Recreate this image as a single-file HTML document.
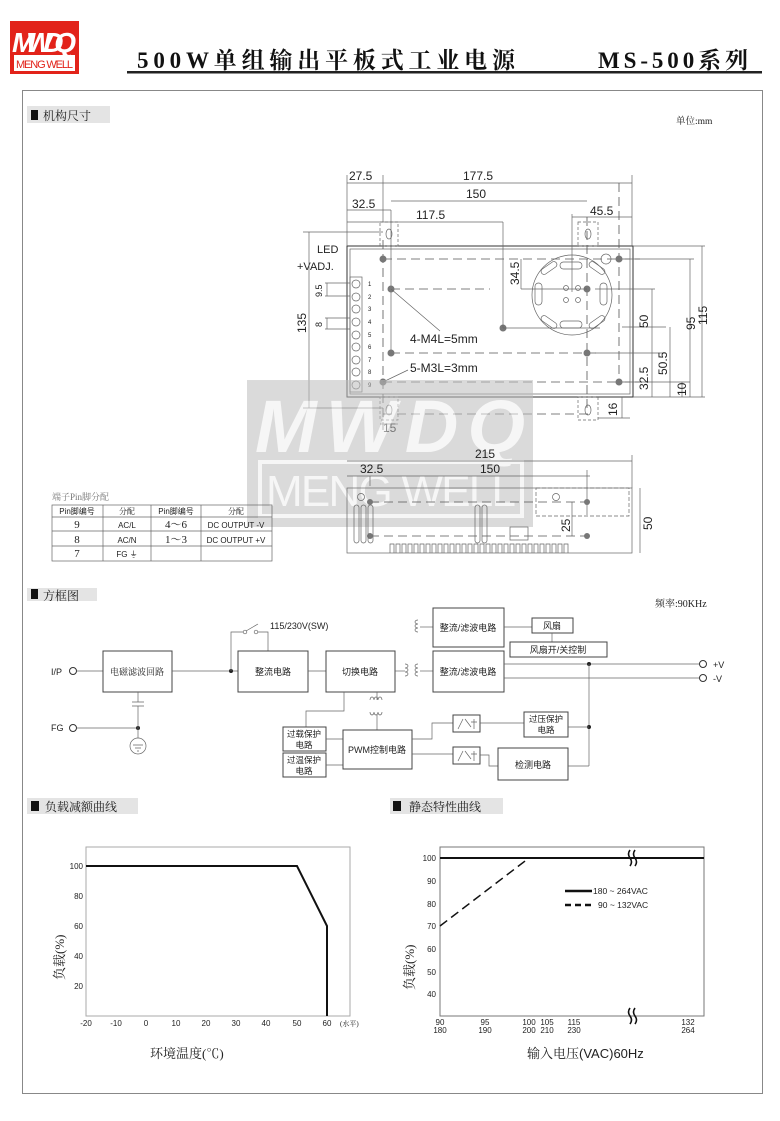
<!DOCTYPE html>
<html><head><meta charset="utf-8"><style>
html,body{margin:0;padding:0;background:#fff;}
svg{display:block;}
text{font-family:"Liberation Sans","Noto Sans CJK SC",sans-serif;fill:#222;}
.s{font-family:"Liberation Serif","Noto Serif CJK SC",serif;}
.ln{stroke:#333;stroke-width:1;fill:none;}
.th{stroke:#666;stroke-width:0.7;fill:none;}
.ds{stroke:#555;stroke-width:0.8;fill:none;stroke-dasharray:9,5;}
.bx{stroke:#444;stroke-width:1;fill:#fff;}
</style></head><body>
<svg width="780" height="1121" viewBox="0 0 780 1121" xmlns="http://www.w3.org/2000/svg">
<rect x="10" y="21" width="69" height="53" fill="#e2231a"/>
<text x="44" y="52" text-anchor="middle" font-size="28" font-weight="bold" font-style="italic" style="fill:#fff" textLength="64">MWDQ</text>
<rect x="14" y="55" width="61" height="16" fill="#fff"/>
<text x="44.5" y="68" text-anchor="middle" font-size="11" style="fill:#e2231a" textLength="57">MENG WELL</text>
<text class="s" x="137" y="68" font-size="23" font-weight="bold" style="fill:#111" textLength="378">500W单组输出平板式工业电源</text>
<text class="s" x="598" y="68" font-size="23" font-weight="bold" style="fill:#111" textLength="150">MS-500系列</text>
<rect x="127" y="71" width="635" height="2.5" fill="#222"/>
<rect x="22.5" y="90.5" width="740" height="1003" fill="none" stroke="#888" stroke-width="1"/>
<rect x="27" y="106" width="83" height="17" fill="#e4e4e4"/>
<rect x="31" y="110" width="7" height="10" fill="#111"/>
<text class="s" x="43" y="120" font-size="12">机构尺寸</text>
<text class="s" x="676" y="124" font-size="9.5">单位:mm</text>

<g>
<rect x="347" y="246" width="286" height="151" class="ln" stroke-width="1.3"/>
<rect x="350" y="249" width="280" height="145" class="th"/>
<rect x="380" y="222" width="18" height="24" class="th" stroke-dasharray="3,2"/>
<rect x="578" y="222" width="20" height="24" class="th" stroke-dasharray="3,2"/>
<rect x="380" y="397" width="18" height="23" class="th" stroke-dasharray="3,2"/>
<rect x="578" y="397" width="20" height="23" class="th" stroke-dasharray="3,2"/>
<ellipse cx="389" cy="234" rx="3" ry="5" class="th"/><ellipse cx="588" cy="234" rx="3" ry="5" class="th"/>
<ellipse cx="389" cy="410" rx="3" ry="5" class="th"/><ellipse cx="588" cy="410" rx="3" ry="5" class="th"/>
<line x1="383" y1="259" x2="640" y2="259" class="ds"/>
<line x1="391" y1="289" x2="490" y2="289" class="ds"/>
<line x1="391" y1="353" x2="600" y2="353" class="ds"/>
<line x1="383" y1="382" x2="640" y2="382" class="ds"/>
<line x1="383" y1="414" x2="590" y2="414" class="ds"/>
<line x1="383" y1="240" x2="383" y2="430" class="ds"/>
<line x1="391" y1="210" x2="391" y2="353" class="th"/>
<line x1="587" y1="217" x2="587" y2="410" class="ds"/>
<line x1="619" y1="183" x2="619" y2="382" class="ds"/>
<rect x="350" y="277" width="12" height="115" class="th" fill="#eee"/>
<g class="th">
<circle cx="356" cy="284" r="4"/><circle cx="356" cy="297" r="4"/><circle cx="356" cy="309" r="4"/><circle cx="356" cy="322" r="4"/><circle cx="356" cy="335" r="4"/><circle cx="356" cy="347" r="4"/><circle cx="356" cy="360" r="4"/><circle cx="356" cy="372" r="4"/><circle cx="356" cy="385" r="4"/>
</g>
<g font-size="6" fill="#555"><text x="368" y="286">1</text><text x="368" y="299">2</text><text x="368" y="311">3</text><text x="368" y="324">4</text><text x="368" y="337">5</text><text x="368" y="349">6</text><text x="368" y="362">7</text><text x="368" y="374">8</text><text x="368" y="387">9</text></g>
<circle cx="572" cy="295" r="40" class="th"/>
<g class="th" stroke-width="1">
<rect x="560" y="262" width="22" height="7" rx="3.5"/><rect x="560" y="321" width="22" height="7" rx="3.5"/>
<rect x="535" y="283" width="7" height="22" rx="3.5"/><rect x="600" y="283" width="7" height="22" rx="3.5"/>
<rect x="540" y="265" width="18" height="6" rx="3" transform="rotate(-35 549 268)"/>
<rect x="588" y="265" width="18" height="6" rx="3" transform="rotate(35 597 268)"/>
<rect x="540" y="319" width="18" height="6" rx="3" transform="rotate(35 549 322)"/>
<rect x="588" y="319" width="18" height="6" rx="3" transform="rotate(-35 597 322)"/>
<circle cx="566" cy="288" r="2.5"/><circle cx="578" cy="288" r="2.5"/><circle cx="566" cy="300" r="2.5"/><circle cx="578" cy="300" r="2.5"/>
<circle cx="606" cy="259" r="5"/>
</g>
<g fill="#777">
<circle cx="383" cy="259" r="3.5"/><circle cx="391" cy="289" r="3.5"/><circle cx="503" cy="328" r="3.5"/><circle cx="391" cy="353" r="3.5"/><circle cx="587" cy="289" r="3.5"/><circle cx="587" cy="353" r="3.5"/><circle cx="619" cy="259" r="3.5"/><circle cx="619" cy="382" r="3.5"/><circle cx="383" cy="382" r="3.5"/>
</g>
<line x1="391" y1="289" x2="440" y2="331" class="th"/>
<line x1="383" y1="382" x2="408" y2="370" class="th"/>
<line x1="503" y1="222" x2="503" y2="328" class="th"/>
<line x1="503" y1="328" x2="600" y2="328" class="th"/>
<text x="410" y="343" font-size="12">4-M4L=5mm</text>
<text x="410" y="372" font-size="12">5-M3L=3mm</text>
<text x="317" y="253" font-size="11">LED</text>
<text x="297" y="270" font-size="11">+VADJ.</text>
<g class="th">
<line x1="347" y1="175" x2="347" y2="246"/><line x1="632" y1="175" x2="632" y2="246"/>
<line x1="383" y1="175" x2="383" y2="222"/><line x1="347" y1="183" x2="632" y2="183"/>
<line x1="391" y1="201" x2="587" y2="201"/>
<line x1="347" y1="210" x2="391" y2="210"/>
<line x1="347" y1="222" x2="503" y2="222"/>
<line x1="572" y1="217" x2="632" y2="217"/><line x1="572" y1="214" x2="572" y2="292"/>
<line x1="521" y1="289" x2="587" y2="289"/><line x1="521" y1="259" x2="521" y2="289"/>
</g>
<g font-size="12">
<text x="349" y="180">27.5</text><text x="463" y="180">177.5</text><text x="466" y="198">150</text>
<text x="352" y="208">32.5</text><text x="416" y="219">117.5</text><text x="590" y="215">45.5</text>
</g>
<text x="0" y="0" font-size="12" transform="translate(519,285) rotate(-90)">34.5</text>
<g class="th">
<line x1="633" y1="246" x2="705" y2="246"/><line x1="633" y1="397" x2="705" y2="397"/>
<line x1="625" y1="259" x2="694" y2="259"/><line x1="595" y1="289" x2="655" y2="289"/>
<line x1="595" y1="353" x2="666" y2="353"/><line x1="625" y1="382" x2="690" y2="382"/>
<line x1="622" y1="327" x2="666" y2="327"/>
<line x1="702" y1="246" x2="702" y2="397"/><line x1="690" y1="259" x2="690" y2="397"/>
<line x1="652" y1="289" x2="652" y2="353"/><line x1="652" y1="353" x2="652" y2="397"/>
<line x1="670" y1="327" x2="670" y2="397"/><line x1="682" y1="382" x2="682" y2="397"/>
<line x1="622" y1="397" x2="622" y2="418"/><line x1="598" y1="418" x2="630" y2="418"/>
<line x1="309" y1="232" x2="309" y2="408"/><line x1="303" y1="232" x2="383" y2="232"/><line x1="303" y1="408" x2="383" y2="408"/>
<line x1="325" y1="283" x2="350" y2="283"/><line x1="325" y1="296" x2="350" y2="296"/><line x1="325" y1="318" x2="350" y2="318"/><line x1="325" y1="329" x2="350" y2="329"/>
<line x1="327" y1="283" x2="327" y2="296"/><line x1="327" y1="318" x2="327" y2="329"/>
<line x1="380" y1="424" x2="398" y2="424"/>
</g>
<g font-size="12">
<text transform="translate(707,325) rotate(-90)">115</text>
<text transform="translate(695,330) rotate(-90)">95</text>
<text transform="translate(648,328) rotate(-90)">50</text>
<text transform="translate(667,375) rotate(-90)">50.5</text>
<text transform="translate(648,390) rotate(-90)">32.5</text>
<text transform="translate(686,396) rotate(-90)">10</text>
<text transform="translate(617,416) rotate(-90)">16</text>
<text transform="translate(306,333) rotate(-90)">135</text>
<text x="383" y="432">15</text>
</g>
<g font-size="9"><text transform="translate(322,297) rotate(-90)">9.5</text><text transform="translate(322,327) rotate(-90)">8</text></g>
</g>

<g opacity="0.55">
<rect x="247" y="380" width="286" height="147" fill="#bdbdbd"/>
<text x="390" y="452" text-anchor="middle" font-size="74" font-style="italic" font-weight="bold" style="fill:#f0f0f0" textLength="270">MWDQ</text>
<rect x="260" y="462" width="262" height="54" fill="none" stroke="#f0f0f0" stroke-width="4"/>
<text x="391" y="506" text-anchor="middle" font-size="44" style="fill:#f0f0f0" textLength="250">MENG WELL</text>
</g>

<g>
<rect x="347" y="488" width="285" height="65" class="th" stroke-width="1"/>
<line x1="347" y1="461" x2="632" y2="461" class="th"/><line x1="347" y1="476" x2="590" y2="476" class="th"/>
<line x1="370" y1="476" x2="370" y2="486" class="th"/>
<line x1="632" y1="455" x2="632" y2="488" class="th"/>
<line x1="587" y1="470" x2="587" y2="515" class="th"/>
<text x="475" y="458" font-size="12">215</text><text x="360" y="473" font-size="12">32.5</text><text x="480" y="473" font-size="12">150</text>
<line x1="640" y1="488" x2="640" y2="553" class="th"/>
<text transform="translate(652,530) rotate(-90)" font-size="12">50</text>
<line x1="572" y1="502" x2="572" y2="536" class="th"/>
<text transform="translate(570,532) rotate(-90)" font-size="12">25</text>
<rect x="536" y="488" width="93" height="28" class="th" stroke-dasharray="4,2"/>
<line x1="370" y1="502" x2="587" y2="502" class="ds"/><line x1="370" y1="536" x2="587" y2="536" class="ds"/>
<g fill="#777"><circle cx="370" cy="502" r="3"/><circle cx="370" cy="536" r="3"/><circle cx="587" cy="502" r="3"/><circle cx="587" cy="536" r="3"/></g>
<circle cx="361" cy="497" r="3.5" class="th"/><circle cx="556" cy="497" r="3.5" class="th"/>
<g class="th"><rect x="354" y="505" width="5" height="38" rx="2.5"/><rect x="361" y="505" width="5" height="38" rx="2.5"/><rect x="368" y="505" width="5" height="38" rx="2.5"/><rect x="475" y="505" width="5" height="38" rx="2.5"/><rect x="482" y="505" width="5" height="38" rx="2.5"/>
<rect x="510" y="527" width="18" height="13"/></g>
<path d="M390 553 v-9 h4 v9 m2 0 v-9 h4 v9 m2 0 v-9 h4 v9 m2 0 v-9 h4 v9 m2 0 v-9 h4 v9 m2 0 v-9 h4 v9 m2 0 v-9 h4 v9 m2 0 v-9 h4 v9 m2 0 v-9 h4 v9 m2 0 v-9 h4 v9 m2 0 v-9 h4 v9 m2 0 v-9 h4 v9 m2 0 v-9 h4 v9 m2 0 v-9 h4 v9 m2 0 v-9 h4 v9 m2 0 v-9 h4 v9 m2 0 v-9 h4 v9 m2 0 v-9 h4 v9 m2 0 v-9 h4 v9 m2 0 v-9 h4 v9 m2 0 v-9 h4 v9 m2 0 v-9 h4 v9 m2 0 v-9 h4 v9 m2 0 v-9 h4 v9 m2 0 v-9 h4 v9 m2 0 v-9 h4 v9 m2 0 v-9 h4 v9 m2 0 v-9 h4 v9 m2 0 v-9 h4 v9 m2 0 v-9 h4 v9" class="th"/>
</g>

<text class="s" x="52" y="500" font-size="9" style="fill:#777">端子Pin脚分配</text>
<g class="th" stroke="#777">
<rect x="52" y="505" width="220" height="56"/>
<line x1="52" y1="517" x2="272" y2="517"/><line x1="52" y1="531" x2="272" y2="531"/><line x1="52" y1="546" x2="272" y2="546"/>
<line x1="103" y1="505" x2="103" y2="561"/><line x1="151" y1="505" x2="151" y2="561"/><line x1="201" y1="505" x2="201" y2="561"/>
</g>
<g font-size="8" text-anchor="middle" style="fill:#555">
<text x="77" y="514">Pin脚编号</text><text x="127" y="514" class="s">分配</text><text x="176" y="514">Pin脚编号</text><text x="236" y="514" class="s">分配</text>
<text x="77" y="528" class="s" font-size="11">9</text><text x="127" y="528">AC/L</text><text x="176" y="528" class="s" font-size="11">4～6</text><text x="236" y="528">DC OUTPUT -V</text>
<text x="77" y="543" class="s" font-size="11">8</text><text x="127" y="543">AC/N</text><text x="176" y="543" class="s" font-size="11">1～3</text><text x="236" y="543">DC OUTPUT +V</text>
<text x="77" y="557" class="s" font-size="11">7</text><text x="127" y="557">FG ⏚</text>
</g>

<rect x="27" y="588" width="70" height="13" fill="#e4e4e4"/>
<rect x="31" y="589" width="7" height="10" fill="#111"/>
<text class="s" x="43" y="600" font-size="12">方框图</text>
<text class="s" x="655" y="607" font-size="10">频率:90KHz</text>

<g font-size="9" class="s">
<text x="51" y="675" font-size="9" style="font-family:'Liberation Sans'">I/P</text>
<circle cx="73" cy="671" r="3.5" class="ln"/>
<line x1="77" y1="671" x2="103" y2="671" class="th"/>
<rect x="103" y="651" width="69" height="41" class="bx"/>
<text x="137" y="675" text-anchor="middle" class="s">电磁滤波回路</text>
<line x1="172" y1="671" x2="238" y2="671" class="th"/>
<circle cx="231" cy="671" r="2" fill="#222"/>
<path d="M231 671 V632 H243 M258 632 H268 V651" class="th"/>
<circle cx="245" cy="632" r="1.8" class="th"/><circle cx="256" cy="632" r="1.8" class="th"/>
<line x1="246" y1="631" x2="258" y2="624" class="th"/>
<text x="270" y="629" font-size="9" style="font-family:'Liberation Sans'">115/230V(SW)</text>
<rect x="238" y="651" width="70" height="41" class="bx"/>
<text x="273" y="675" text-anchor="middle">整流电路</text>
<line x1="308" y1="671" x2="326" y2="671" class="th"/>
<rect x="326" y="651" width="69" height="41" class="bx"/>
<text x="360" y="675" text-anchor="middle">切换电路</text>
<line x1="395" y1="671" x2="405" y2="671" class="th"/>
<path d="M405 664 a3 2 0 0 1 0 4 a3 2 0 0 1 0 4 a3 2 0 0 1 0 4 M418 664 a3 2 0 0 0 0 4 a3 2 0 0 0 0 4 a3 2 0 0 0 0 4" class="th"/>
<line x1="420" y1="671" x2="433" y2="671" class="th"/>
<path d="M418 620 a3 2 0 0 0 0 4 a3 2 0 0 0 0 4 a3 2 0 0 0 0 4" class="th"/>
<line x1="420" y1="627" x2="433" y2="627" class="th"/>
<rect x="433" y="608" width="71" height="39" class="bx"/>
<text x="468" y="631" text-anchor="middle">整流/滤波电路</text>
<rect x="433" y="651" width="71" height="41" class="bx"/>
<text x="468" y="675" text-anchor="middle">整流/滤波电路</text>
<line x1="504" y1="627" x2="532" y2="627" class="th"/>
<rect x="532" y="618" width="41" height="15" class="bx"/>
<text x="552" y="629" text-anchor="middle">风扇</text>
<line x1="552" y1="633" x2="552" y2="642" class="th"/>
<rect x="510" y="642" width="97" height="15" class="bx"/>
<text x="558" y="653" text-anchor="middle">风扇开/关控制</text>
<line x1="504" y1="664" x2="700" y2="664" class="th"/>
<line x1="504" y1="678" x2="700" y2="678" class="th"/>
<circle cx="703" cy="664" r="3.5" class="ln"/><circle cx="703" cy="678" r="3.5" class="ln"/>
<text x="713" y="668" style="font-family:'Liberation Sans'">+V</text><text x="713" y="682" style="font-family:'Liberation Sans'">-V</text>
<circle cx="589" cy="664" r="2" fill="#222"/>
<line x1="589" y1="664" x2="589" y2="766" class="th"/>
<circle cx="589" cy="727" r="2" fill="#222"/>
<text x="51" y="731" style="font-family:'Liberation Sans'">FG</text>
<circle cx="73" cy="728" r="3.5" class="ln"/>
<line x1="77" y1="728" x2="138" y2="728" class="th"/>
<circle cx="138" cy="728" r="2" fill="#222"/>
<path d="M138 692 V702 M132 702 H144 M132 706 H144 M138 706 V738" class="th"/>
<circle cx="138" cy="746" r="8" class="th"/>
<path d="M133 745 H143 M135 748 H141 M137 751 H139" class="th"/>
<path d="M344 692 V711 H306 V727" class="th"/>
<path d="M377 692 V700" class="th"/>
<path d="M370 700 a2 3 0 0 1 4 0 a2 3 0 0 1 4 0 a2 3 0 0 1 4 0 M370 712 a2 3 0 0 0 4 0 a2 3 0 0 0 4 0 a2 3 0 0 0 4 0" class="th"/>
<line x1="377" y1="715" x2="377" y2="730" class="th"/>
<rect x="283" y="727" width="43" height="24" class="bx"/>
<text x="304" y="737" text-anchor="middle" font-size="8.5">过载保护</text><text x="304" y="748" text-anchor="middle" font-size="8.5">电路</text>
<rect x="283" y="753" width="43" height="24" class="bx"/>
<text x="304" y="763" text-anchor="middle" font-size="8.5">过温保护</text><text x="304" y="774" text-anchor="middle" font-size="8.5">电路</text>
<line x1="326" y1="739" x2="343" y2="739" class="th"/><line x1="326" y1="765" x2="343" y2="765" class="th"/>
<rect x="343" y="730" width="69" height="39" class="bx"/>
<text x="377" y="753" text-anchor="middle" font-size="9"><tspan style="font-family:'Liberation Sans'">PWM</tspan>控制电路</text>
<path d="M412 739 H432 V723 H453" class="th"/>
<path d="M412 754 H453" class="th"/>
<rect x="453" y="715" width="27" height="17" class="bx"/><rect x="453" y="747" width="27" height="17" class="bx"/>
<path d="M458 729 l5 -10 M465 719 l6 8 M474 719 v10 M471 722 h6" class="th"/>
<path d="M458 761 l5 -10 M465 751 l6 8 M474 751 v10 M471 754 h6" class="th"/>
<line x1="480" y1="723" x2="524" y2="723" class="th"/>
<rect x="524" y="712" width="44" height="25" class="bx"/>
<text x="546" y="722" text-anchor="middle" font-size="8.5">过压保护</text><text x="546" y="733" text-anchor="middle" font-size="8.5">电路</text>
<line x1="568" y1="727" x2="589" y2="727" class="th"/>
<path d="M480 755 H489 V766 H498" class="th"/>
<rect x="498" y="748" width="70" height="32" class="bx"/>
<text x="533" y="768" text-anchor="middle">检测电路</text>
<line x1="568" y1="766" x2="589" y2="766" class="th"/>
</g>

<rect x="27" y="798" width="111" height="16" fill="#e4e4e4"/>
<rect x="31" y="801" width="8" height="10" fill="#111"/>
<text class="s" x="45" y="811" font-size="12">负载减额曲线</text>
<rect x="86" y="847" width="264" height="169" fill="none" stroke="#aaa" stroke-width="1"/>
<g font-size="8" text-anchor="end"><text x="83" y="869">100</text><text x="83" y="899">80</text><text x="83" y="929">60</text><text x="83" y="959">40</text><text x="83" y="989">20</text></g>
<g font-size="8" text-anchor="middle"><text x="86" y="1026">-20</text><text x="116" y="1026">-10</text><text x="146" y="1026">0</text><text x="176" y="1026">10</text><text x="206" y="1026">20</text><text x="236" y="1026">30</text><text x="266" y="1026">40</text><text x="297" y="1026">50</text><text x="327" y="1026">60</text></g>
<text class="s" x="340" y="1026" font-size="7">(水平)</text>
<polyline points="86,866 297,866 327,926 327,1016" fill="none" stroke="#111" stroke-width="2"/>
<text class="s" font-size="13" transform="translate(64,980) rotate(-90)">负载(%)</text>
<text class="s" x="150" y="1058" font-size="13">环境温度(℃)</text>

<rect x="390" y="798" width="113" height="16" fill="#e4e4e4"/>
<rect x="393" y="801" width="8" height="10" fill="#111"/>
<text class="s" x="409" y="811" font-size="12">静态特性曲线</text>
<rect x="440" y="847" width="264" height="169" fill="none" stroke="#777" stroke-width="1"/>
<g font-size="8" text-anchor="end"><text x="436" y="861">100</text><text x="436" y="884">90</text><text x="436" y="907">80</text><text x="436" y="929">70</text><text x="436" y="952">60</text><text x="436" y="975">50</text><text x="436" y="997">40</text></g>
<g font-size="8" text-anchor="middle"><text x="440" y="1025">90</text><text x="440" y="1033">180</text><text x="485" y="1025">95</text><text x="485" y="1033">190</text><text x="529" y="1025">100</text><text x="529" y="1033">200</text><text x="547" y="1025">105</text><text x="547" y="1033">210</text><text x="574" y="1025">115</text><text x="574" y="1033">230</text><text x="688" y="1025">132</text><text x="688" y="1033">264</text></g>
<line x1="440" y1="858" x2="704" y2="858" stroke="#111" stroke-width="2"/>
<line x1="440" y1="926" x2="529" y2="858" stroke="#111" stroke-width="1.5" stroke-dasharray="9,5"/>
<path d="M630 850 q-3 4 0 8 q3 4 0 8 M635 850 q-3 4 0 8 q3 4 0 8" stroke="#111" stroke-width="1.6" fill="none"/>
<path d="M630 1008 q-3 4 0 8 q3 4 0 8 M635 1008 q-3 4 0 8 q3 4 0 8" stroke="#111" stroke-width="1.6" fill="none"/>
<line x1="565" y1="891" x2="592" y2="891" stroke="#111" stroke-width="2.5"/>
<text x="593" y="894" font-size="8.5">180 ~ 264VAC</text>
<line x1="565" y1="905" x2="592" y2="905" stroke="#111" stroke-width="2.5" stroke-dasharray="6,4"/>
<text x="598" y="908" font-size="8.5">90 ~ 132VAC</text>
<text class="s" font-size="13" transform="translate(414,990) rotate(-90)">负载(%)</text>
<text class="s" x="527" y="1058" font-size="13">输入电压<tspan style="font-family:'Liberation Sans'">(VAC)60Hz</tspan></text>
</svg>
</body></html>
